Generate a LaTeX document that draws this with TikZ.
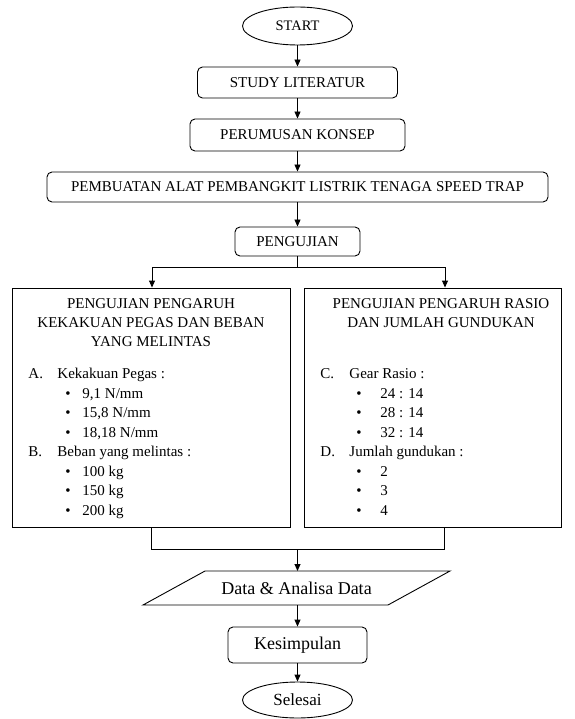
\documentclass[tikz,border=0pt]{standalone}
\usepackage{fontspec}
\setmainfont{Liberation Serif}
\usetikzlibrary{arrows.meta,shapes.geometric}
\begin{document}
\begin{tikzpicture}[x=1pt,y=-1pt,
  line width=0.9pt,
  arr/.style={-{Triangle[length=7pt,width=6pt]}},
  rbox/.style={draw,rounded corners=5pt,inner sep=0pt,font=\fontsize{15}{18}\selectfont},
  term/.style={draw,ellipse,inner sep=0pt},
  plain/.style={draw,inner sep=0pt},
  txt/.style={inner sep=0pt,font=\fontsize{15}{18}\selectfont,text height=10.5pt,text depth=3pt},
]
\useasboundingbox (0,0) rectangle (574,719);
\node[term,minimum width=110,minimum height=38,font=\fontsize{14.5}{17}\selectfont] (start) at (297.5,26) {START};
\node[rbox,minimum width=200,minimum height=31] (study) at (297.5,82.5) {STUDY LITERATUR};
\node[rbox,minimum width=215,minimum height=32] (rumus) at (297.5,135) {PERUMUSAN KONSEP};
\node[rbox,minimum width=501,minimum height=30] (buat) at (297.5,187) {PEMBUATAN ALAT PEMBANGKIT LISTRIK TENAGA SPEED TRAP};
\node[rbox,minimum width=125,minimum height=29] (uji) at (297.5,241.5) {PENGUJIAN};

\node[plain,minimum width=278,minimum height=239] (left) at (151,407.5) {};
\node[plain,minimum width=257,minimum height=239] (right) at (432.5,407.5) {};

% left box text
\node[txt] (lt1) at (151,305) {PENGUJIAN PENGARUH};
\node[txt] (lt2) at (151,324) {KEKAKUAN PEGAS DAN BEBAN};
\node[txt] (lt3) at (151,343) {YANG MELINTAS};
\node[txt,anchor=west] (la) at (28,375) {A.};
\node[txt,anchor=west] (lat) at (57,375) {Kekakuan Pegas :};
\node[txt] (lb1) at (68,394.5) {•};
\node[txt,anchor=west] (li1) at (82,394.5) {9,1 N/mm};
\node[txt] (lb2) at (68,414) {•};
\node[txt,anchor=west] (li2) at (82,414) {15,8 N/mm};
\node[txt] (lb3) at (68,433.5) {•};
\node[txt,anchor=west] (li3) at (82,433.5) {18,18 N/mm};
\node[txt,anchor=west] (lbb) at (28,453) {B.};
\node[txt,anchor=west] (lbt) at (57,453) {Beban yang melintas :};
\node[txt] (lb4) at (68,472.5) {•};
\node[txt,anchor=west] (li4) at (82,472.5) {100 kg};
\node[txt] (lb5) at (68,492) {•};
\node[txt,anchor=west] (li5) at (82,492) {150 kg};
\node[txt] (lb6) at (68,511.5) {•};
\node[txt,anchor=west] (li6) at (82,511.5) {200 kg};

% right box text
\node[txt] (rt1) at (441,305) {PENGUJIAN PENGARUH RASIO};
\node[txt] (rt2) at (441,324) {DAN JUMLAH GUNDUKAN};
\node[txt,anchor=west] (rc) at (320,375) {C.};
\node[txt,anchor=west] (rct) at (349,375) {Gear Rasio :};
\node[txt] (rb1) at (359,394.5) {•};
\node[txt,anchor=west] (ri1) at (380,394.5) {24 : 14};
\node[txt] (rb2) at (359,414) {•};
\node[txt,anchor=west] (ri2) at (380,414) {28 : 14};
\node[txt] (rb3) at (359,433.5) {•};
\node[txt,anchor=west] (ri3) at (380,433.5) {32 : 14};
\node[txt,anchor=west] (rd) at (320,453) {D.};
\node[txt,anchor=west] (rdt) at (349,453) {Jumlah gundukan :};
\node[txt] (rb4) at (359,472.5) {•};
\node[txt,anchor=west] (ri4) at (380,472.5) {2};
\node[txt] (rb5) at (359,492) {•};
\node[txt,anchor=west] (ri5) at (380,492) {3};
\node[txt] (rb6) at (359,511.5) {•};
\node[txt,anchor=west] (ri6) at (380,511.5) {4};

% data parallelogram
\coordinate (dtop) at (297.5,571);
\draw (143,605) -- (205,571) -- (450,571) -- (388,605) -- cycle;
\node[inner sep=0pt,font=\fontsize{18}{21}\selectfont] (data) at (296.5,588) {Data \& Analisa Data};
\coordinate (dbot) at (297.5,605);
\node[rbox,minimum width=139,minimum height=36,font=\fontsize{18}{21}\selectfont] (kes) at (297.5,645) {Kesimpulan};
\node[term,minimum width=110,minimum height=36,font=\fontsize{17}{20}\selectfont] (end) at (297.5,700) {Selesai};

% connectors
\draw[arr] (start) -- (study);
\draw[arr] (study) -- (rumus);
\draw[arr] (rumus) -- (buat);
\draw[arr] (buat) -- (uji);
\coordinate (bj) at (297.5,267);
\coordinate (bl) at (152,267);
\coordinate (br) at (445,267);
\draw (uji.south) -- (bj);
\draw (bl) -- (br);
\draw[arr] (bl) -- (bl |- left.north);
\draw[arr] (br) -- (br |- right.north);
\coordinate (ml) at (151,549);
\coordinate (mr) at (444,549);
\coordinate (mj) at (297.5,549);
\draw (ml |- left.south) -- (ml) -- (mr) -- (mr |- right.south);
\draw[arr] (mj) -- (dtop);
\draw[arr] (dbot) -- (kes);
\draw[arr] (kes) -- (end);
\end{tikzpicture}
\end{document}
